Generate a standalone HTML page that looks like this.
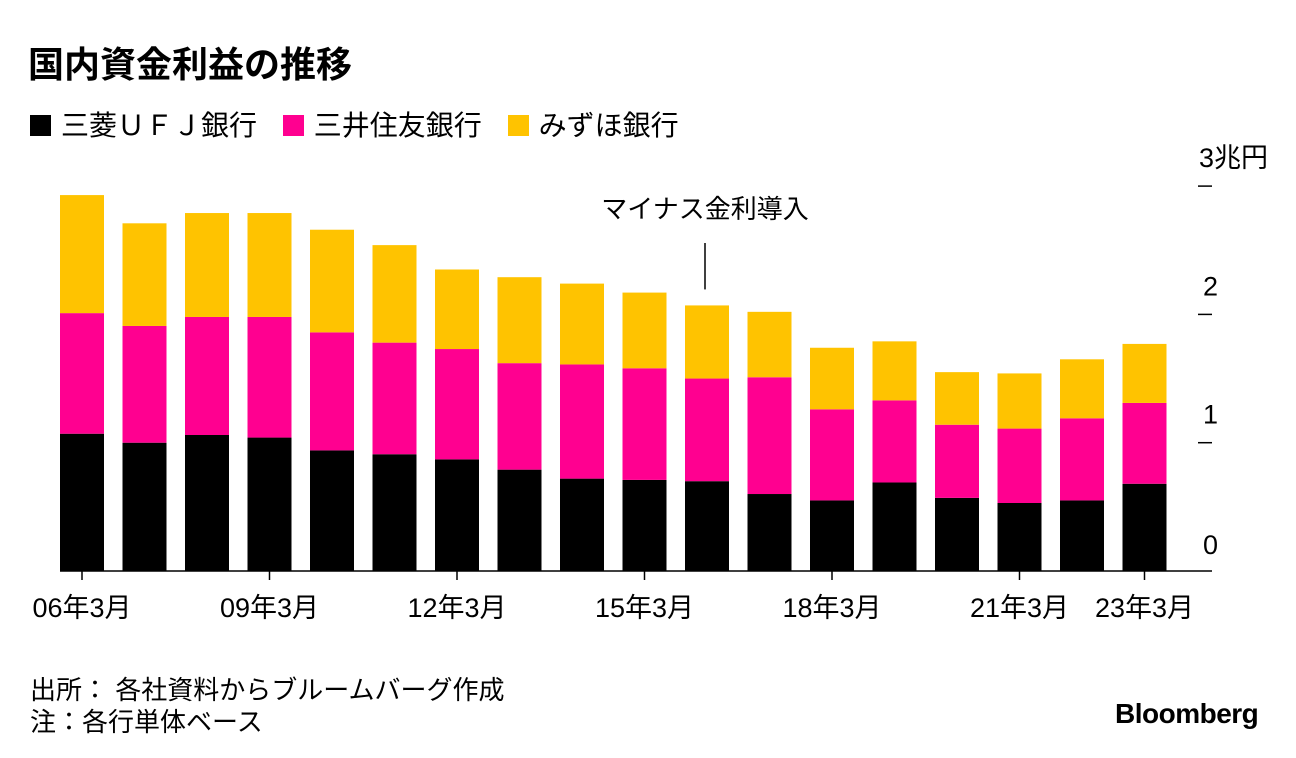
<!DOCTYPE html>
<html><head><meta charset="utf-8"><style>
body{margin:0;background:#fff;font-family:"Liberation Sans","Noto Sans CJK JP",sans-serif;color:#000}
#wrap{position:relative;width:1296px;height:758px;overflow:hidden}
.t{position:absolute;white-space:nowrap}
</style></head><body>
<div id="wrap">
<div class="t" style="left:28px;top:36px;font-size:36px;font-weight:bold">国内資金利益の推移</div>
<div class="t" style="left:30px;top:104px;font-size:28px">
<span><span style="display:inline-block;width:21px;height:21px;background:#000;vertical-align:-1px;margin-right:10px"></span>三菱ＵＦＪ銀行</span>
<span style="margin-left:18px"><span style="display:inline-block;width:21px;height:21px;background:#ff0090;vertical-align:-1px;margin-right:10px"></span>三井住友銀行</span>
<span style="margin-left:18px"><span style="display:inline-block;width:21px;height:21px;background:#ffc300;vertical-align:-1px;margin-right:10px"></span>みずほ銀行</span>
</div>
<svg id="svg" width="1296" height="758" style="position:absolute;left:0;top:0"></svg>
<div class="t" style="left:30px;top:674px;font-size:26px;line-height:32px">出所： 各社資料からブルームバーグ作成<br>注：各行単体ベース</div>
<div class="t" style="left:1115px;top:698px;font-size:28px;font-weight:bold;letter-spacing:-0.5px">Bloomberg</div>
</div>
<script>
const categories=["06年3月","07年3月","08年3月","09年3月","10年3月","11年3月","12年3月","13年3月","14年3月","15年3月","16年3月","17年3月","18年3月","19年3月","20年3月","21年3月","22年3月","23年3月"];
const mufg=[1.07,1.00,1.06,1.04,0.94,0.91,0.87,0.79,0.72,0.71,0.70,0.60,0.55,0.69,0.57,0.53,0.55,0.68];
const smbc=[0.94,0.91,0.92,0.94,0.92,0.87,0.86,0.83,0.89,0.87,0.80,0.91,0.71,0.64,0.57,0.58,0.64,0.63];
const mizuho=[0.92,0.80,0.81,0.81,0.80,0.76,0.62,0.67,0.63,0.59,0.57,0.51,0.48,0.46,0.41,0.43,0.46,0.46];
const yTicks=[0,1,2,3];
const yTickLabels=["0","1","2","3兆円"];
const xLabelIdx=[0,3,6,9,12,15,17];
const annotationIdx=10, annotationText="マイナス金利導入";
const NS="http://www.w3.org/2000/svg", svg=document.getElementById('svg');
const y0=571, pxU=128.3, x0=82, step=62.5, bw=44;
const Y=v=>y0-v*pxU, X=i=>x0+i*step;
function mk(t,a,txt){const e=document.createElementNS(NS,t);for(const k in a)e.setAttribute(k,a[k]);if(txt!=null)e.textContent=txt;svg.appendChild(e);return e;}
const series=[[mufg,"#000","mufg"],[smbc,"#ff0090","smbc"],[mizuho,"#ffc300","mizuho"]];
categories.forEach((c,i)=>{let base=0;series.forEach(([arr,col,nm])=>{const v=arr[i];
const r=mk('rect',{x:X(i)-bw/2,y:Y(base+v),width:bw,height:v*pxU,fill:col});


base+=v;});});
const ax=mk('line',{x1:60,x2:1212,y1:y0,y2:y0,stroke:'#000','stroke-width':1.5});


xLabelIdx.forEach(i=>{mk('line',{x1:X(i),x2:X(i),y1:y0,y2:y0+9,stroke:'#000','stroke-width':1.5});
const t=mk('text',{x:X(i),y:617,'text-anchor':'middle','font-size':27},categories[i]);

});
yTicks.forEach((v,k)=>{if(v>0)mk('line',{x1:1198,x2:1212,y1:Y(v),y2:Y(v),stroke:'#000','stroke-width':1.5});
const t=mk('text',{x:v===3?1199:1203,y:Y(v)-(v===0?17:19),'font-size':27},yTickLabels[k]);

});
const ax2=X(annotationIdx)-2;
const av=mufg[annotationIdx]+smbc[annotationIdx]+mizuho[annotationIdx];
mk('line',{x1:ax2,x2:ax2,y1:243,y2:Y(av)-16,stroke:'#000','stroke-width':1.5});
const at=mk('text',{x:ax2,y:218,'text-anchor':'middle','font-size':26},annotationText);


</script>
</body></html>
